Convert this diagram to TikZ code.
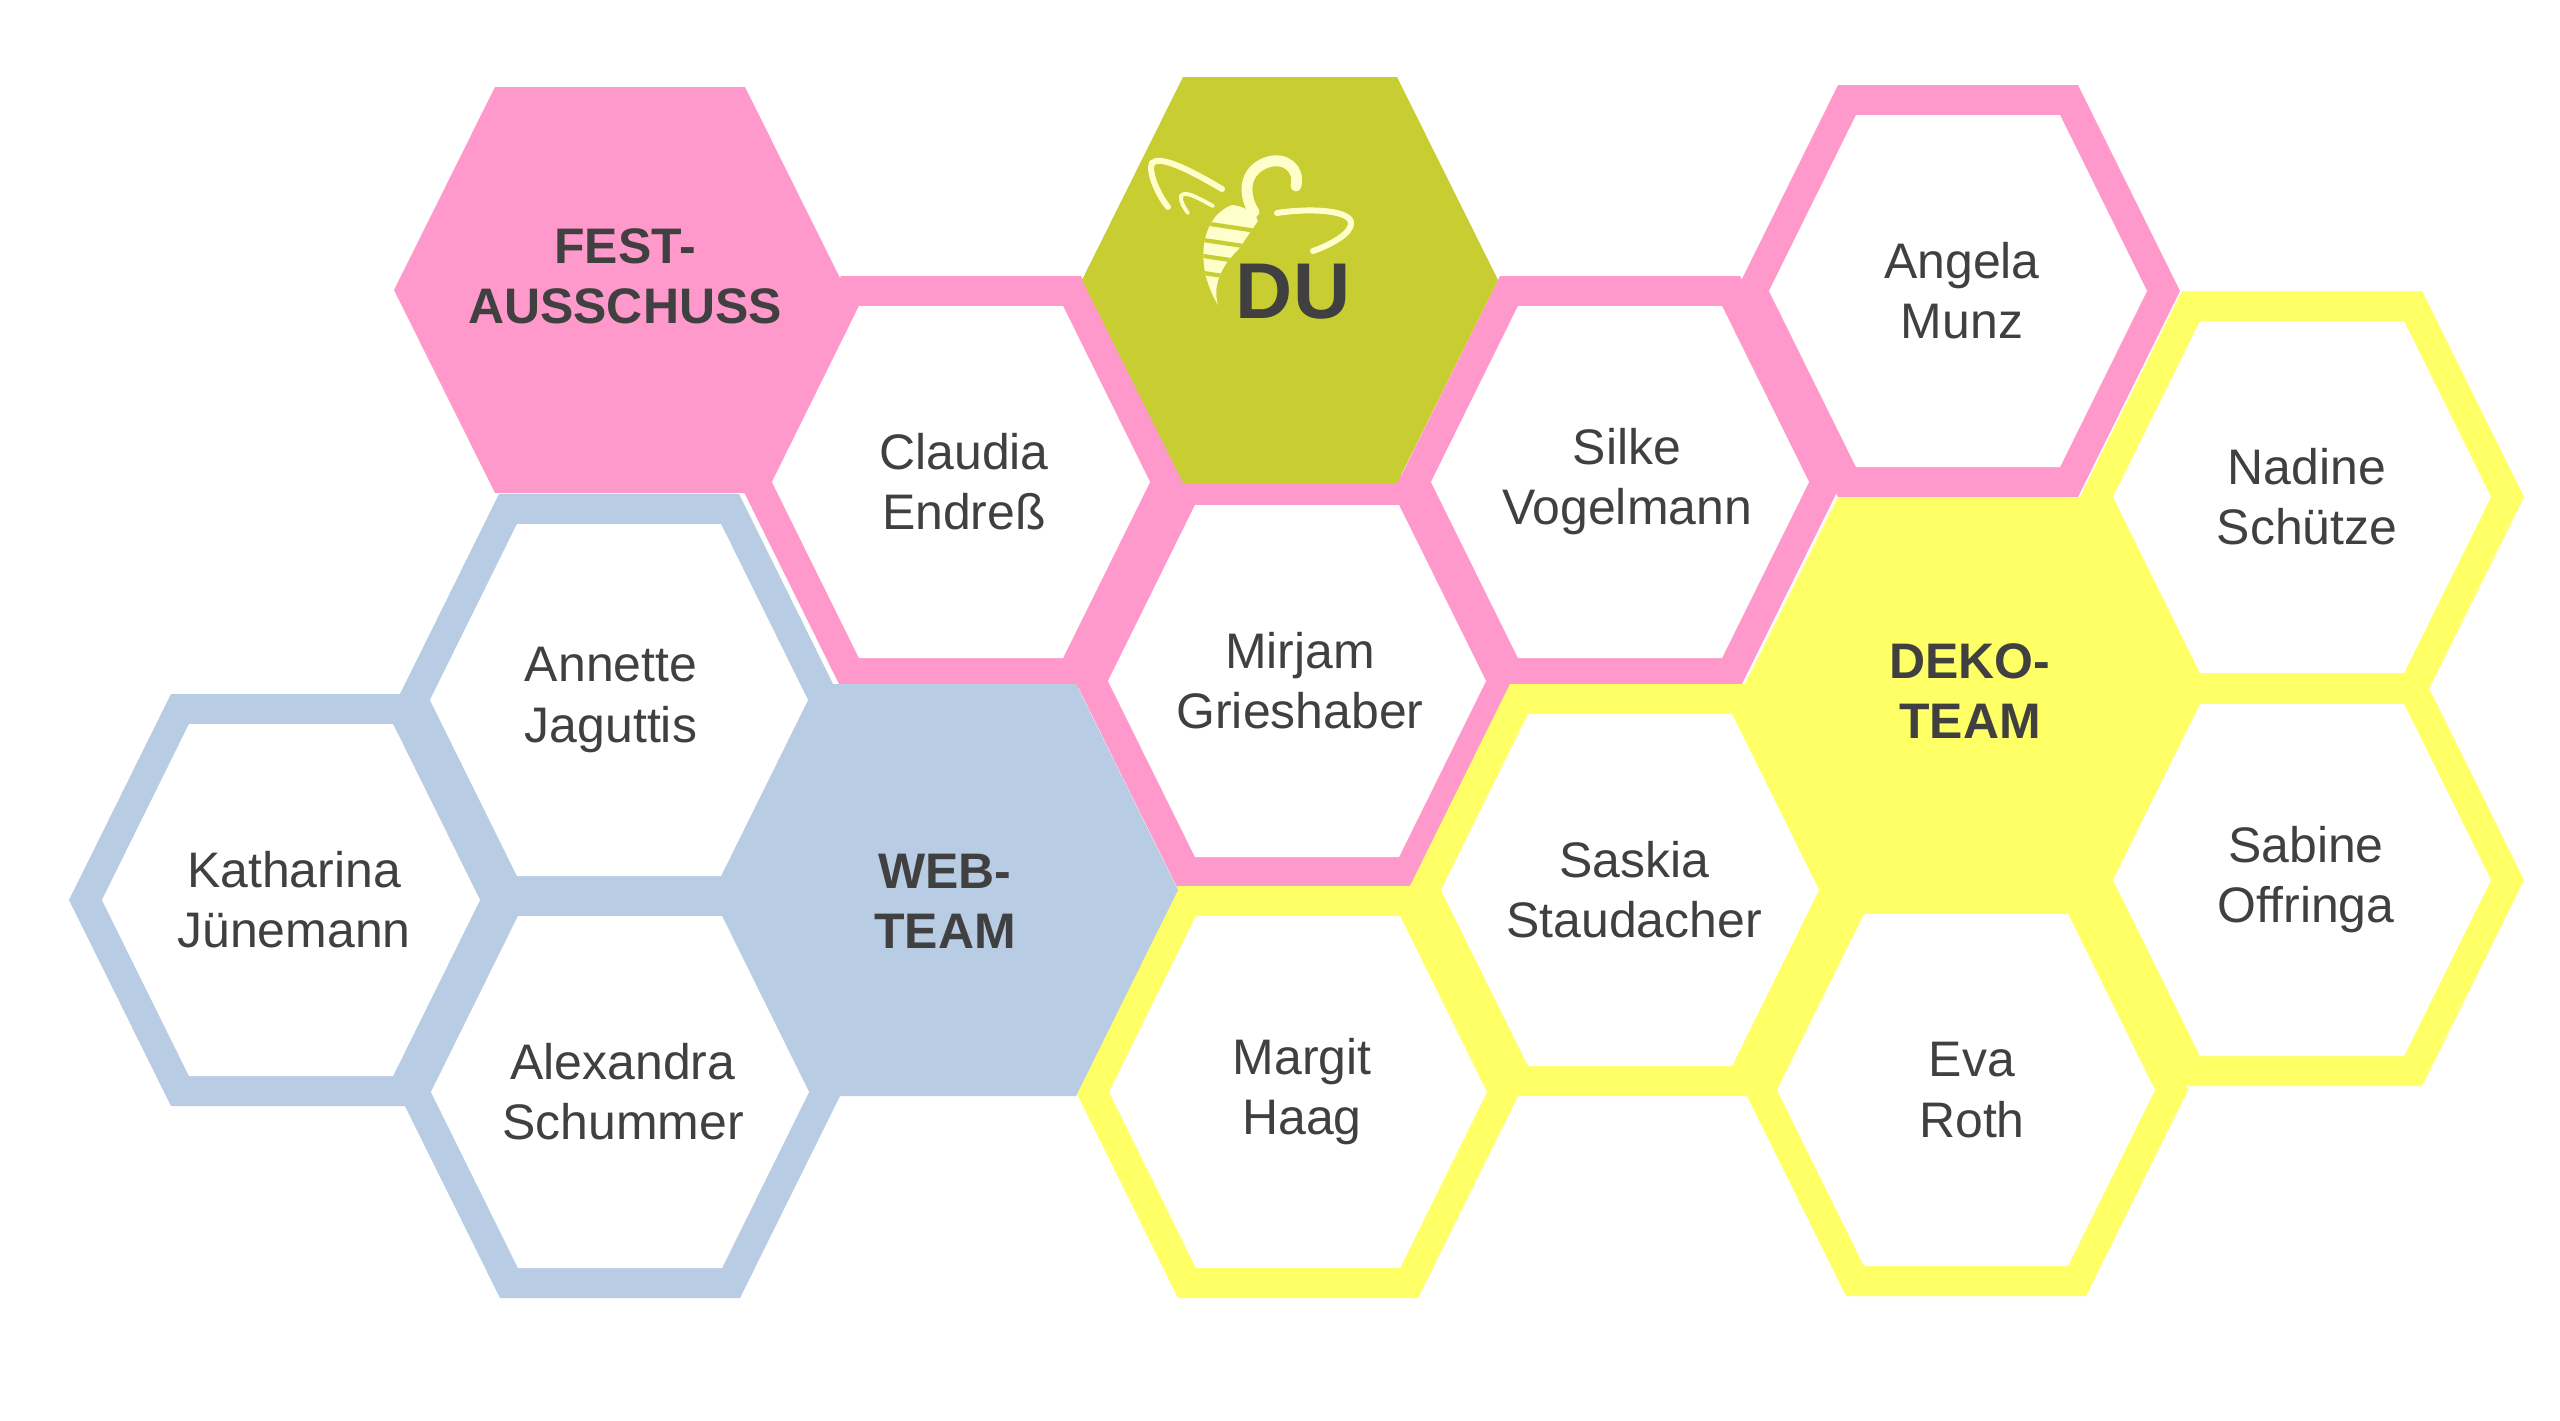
\documentclass[tikz,border=0pt]{standalone}
\usepackage{fontspec}
\setmainfont{Liberation Sans}
\usepackage{tikz}
\usepackage{xcolor}
\usetikzlibrary{positioning}

\definecolor{festpink}{HTML}{FF99CC}
\definecolor{dekoyellow}{HTML}{FFFF66}
\definecolor{webblue}{HTML}{B8CCE4}
\definecolor{duolive}{HTML}{C8CD32}
\definecolor{beecream}{HTML}{FFFFCC}
\definecolor{labelgray}{HTML}{404040}

\newcommand{\hexpath}[5]{({#1-#3},{#2}) -- ({#1-#4},{#2-#5}) -- ({#1+#4},{#2-#5}) -- ({#1+#3},{#2}) -- ({#1+#4},{#2+#5}) -- ({#1-#4},{#2+#5}) -- cycle}

\begin{document}
\begin{tikzpicture}[x=0.01cm, y=-0.01cm,
    member/.style={text=labelgray, align=center, inner sep=0pt, font=\fontsize{14.2}{17.1}\selectfont},
    team/.style={member, font=\fontsize{14.2}{17.1}\selectfont\bfseries},
    beeline/.style={draw=beecream, line cap=round}]
                    \fill[white] (0,0) rectangle (2560,1421);
                    \useasboundingbox (0,0) rectangle (2560,1421);

                    \fill[webblue] \hexpath{291}{900}{222}{120}{206};
                    \fill[webblue] \hexpath{619}{700}{222}{120}{206};
                    \fill[webblue] \hexpath{620}{1092}{222}{120}{206};
                    \fill[festpink] \hexpath{961}{482}{222}{120}{206};
                    \fill[festpink] \hexpath{1297}{681}{222}{120}{206};
                    \fill[festpink] \hexpath{1620}{482}{222}{120}{206};
                    \fill[festpink] \hexpath{1958}{291}{222}{120}{206};
                    \fill[dekoyellow] \hexpath{1298}{1092}{222}{120}{206};
                    \fill[dekoyellow] \hexpath{1630}{890}{222}{120}{206};
                    \fill[dekoyellow] \hexpath{1966}{1090}{222}{120}{206};
                    \fill[dekoyellow] \hexpath{2302}{497}{222}{120}{206};
                    \fill[dekoyellow] \hexpath{2302}{880}{222}{120}{206};

                    \fill[white] \hexpath{291}{900}{189}{102}{176};
                    \fill[white] \hexpath{619}{700}{189}{102}{176};
                    \fill[white] \hexpath{620}{1092}{189}{102}{176};
                    \fill[white] \hexpath{961}{482}{189}{102}{176};
                    \fill[white] \hexpath{1297}{681}{189}{102}{176};
                    \fill[white] \hexpath{1620}{482}{189}{102}{176};
                    \fill[white] \hexpath{1958}{291}{189}{102}{176};
                    \fill[white] \hexpath{1298}{1092}{189}{102}{176};
                    \fill[white] \hexpath{1630}{890}{189}{102}{176};
                    \fill[white] \hexpath{1966}{1090}{189}{102}{176};
                    \fill[white] \hexpath{2302}{497}{189}{102}{176};
                    \fill[white] \hexpath{2302}{880}{189}{102}{176};

                    \fill[webblue] \hexpath{950}{890}{228}{126}{206};
                    \fill[festpink] \hexpath{620}{290}{226}{125}{203};
                    \fill[dekoyellow] \hexpath{1963}{700}{226}{125}{203};
                    \fill[duolive] \hexpath{1290}{280}{208}{107}{203};

                    \draw[beeline, line width=1.7pt] (1222,189) .. controls (1190,170) and (1160,155) .. (1152,163) .. controls (1148,172) and (1158,195) .. (1168,207);
                    \draw[beeline, line width=1.1pt] (1213,206) .. controls (1198,198) and (1185,190) .. (1181,196) .. controls (1180,202) and (1185,209) .. (1188,213);
                    \draw[beeline, line width=3.1pt] (1254,212) .. controls (1243,195) and (1243,170) .. (1268,162) .. controls (1285,157) and (1300,168) .. (1296,186);
                    \draw[beeline, line width=1.7pt] (1277,213) .. controls (1310,208) and (1348,210) .. (1351,222) .. controls (1353,233) and (1330,245) .. (1313,251);
                    \begin{scope}
                        \clip (1232,205) .. controls (1203,215) and (1192,262) .. (1218,305) .. controls (1212,285) and (1222,265) .. (1238,250) -- (1258,221) .. controls (1256,214) and (1245,206) .. (1232,205);
                        \fill[beecream] (1180,195) rectangle (1270,310);
                        \draw[duolive, line width=1.2pt] (1190,221) -- (1270,233);
                        \draw[duolive, line width=1.2pt] (1190,238) -- (1270,250);
                        \draw[duolive, line width=1.2pt] (1190,254) -- (1270,266);
                        \draw[duolive, line width=1.2pt] (1190,271) -- (1270,283);
                    \end{scope}

                    \node[team] (fest) at (625,276) {FEST-\\AUSSCHUSS};
                    \node[team] (web) at (945,901) {WEB-\\TEAM};
                    \node[team] (deko) at (1970,691) {DEKO-\\TEAM};
                    \node[team, font=\fontsize{22.5}{27}\selectfont\bfseries] (du) at (1293,292) {DU};

                    \node[member] (claudia) at (964,482) {Claudia\\Endreß};
                    \node[member] (annette) at (611,700) {Annette\\Jaguttis};
                    \node[member] (katharina) at (294,900) {Katharina\\Jünemann};
                    \node[member] (alexandra) at (623,1092) {Alexandra\\Schummer};
                    \node[member] (mirjam) at (1300,681) {Mirjam\\Grieshaber};
                    \node[member] (margit) at (1302,1092) {Margit\\Haag};
                    \node[member] (silke) at (1627,482) {Silke\\Vogelmann};
                    \node[member] (saskia) at (1634,890) {Saskia\\Staudacher};
                    \node[member] (angela) at (1962,291) {Angela\\Munz};
                    \node[member] (eva) at (1972,1090) {Eva\\Roth};
                    \node[member] (nadine) at (2307,497) {Nadine\\Schütze};
                    \node[member] (sabine) at (2306,880) {Sabine\\Offringa};
                \end{tikzpicture}
\end{document}
